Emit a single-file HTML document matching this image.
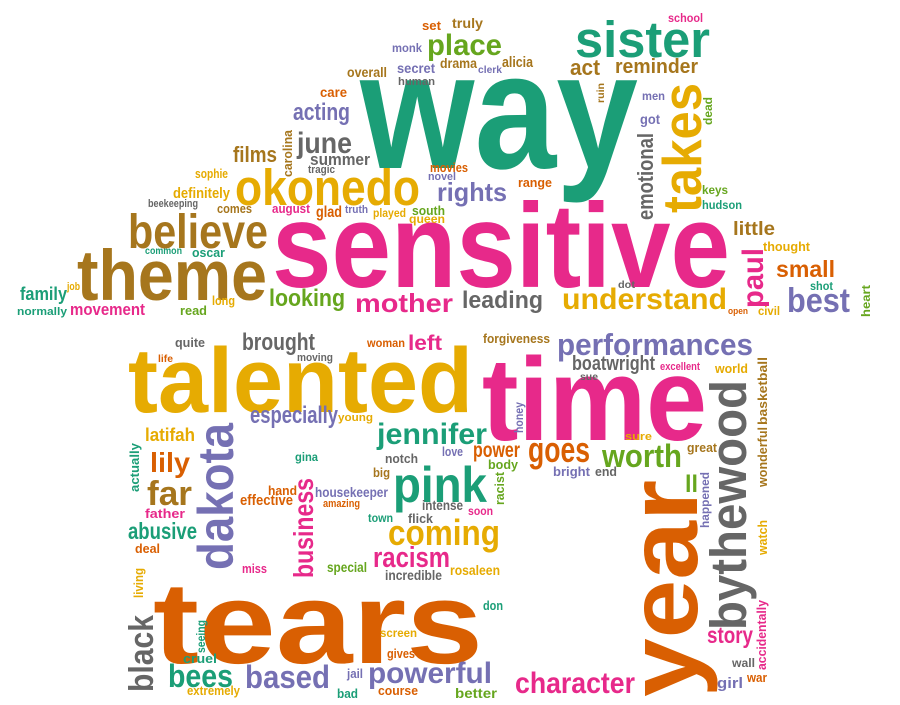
<!DOCTYPE html>
<html><head><meta charset="utf-8"><style>
html,body{margin:0;padding:0;background:#fff;}
svg{display:block;}
text{font-family:"Liberation Sans",sans-serif;font-weight:bold;}
.t{fill:#1b9e77}.o{fill:#d95f02}.p{fill:#7570b3}.k{fill:#e7298a}.g{fill:#66a61e}.y{fill:#e6ab02}.b{fill:#a6761d}.r{fill:#666666}
</style></head><body>
<svg width="900" height="705" viewBox="0 0 900 705" lengthAdjust="spacingAndGlyphs">
<g>
<text class="t" x="360" y="168" font-size="166" textLength="278" lengthAdjust="spacingAndGlyphs">way</text>
<text class="k" x="272" y="287" font-size="120" textLength="458" lengthAdjust="spacingAndGlyphs">sensitive</text>
<text class="b" x="77" y="300" font-size="71" textLength="190" lengthAdjust="spacingAndGlyphs">theme</text>
<text class="b" x="128" y="248" font-size="48" textLength="140" lengthAdjust="spacingAndGlyphs">believe</text>
<text class="y" x="235" y="205" font-size="51" textLength="185" lengthAdjust="spacingAndGlyphs">okonedo</text>
<text class="t" x="575" y="57" font-size="51" textLength="135" lengthAdjust="spacingAndGlyphs">sister</text>
<text class="y" x="128" y="412" font-size="92" textLength="345" lengthAdjust="spacingAndGlyphs">talented</text>
<text class="k" x="482" y="440" font-size="118" textLength="225" lengthAdjust="spacingAndGlyphs">time</text>
<text class="o" x="153" y="663" font-size="116" textLength="330" lengthAdjust="spacingAndGlyphs">tears</text>

<text class="o" transform="translate(697,697) rotate(-90)" font-size="98" textLength="217" lengthAdjust="spacingAndGlyphs">year</text>
<text class="r" transform="translate(746,630) rotate(-90)" font-size="51" textLength="250" lengthAdjust="spacingAndGlyphs">bythewood</text>
<text class="y" transform="translate(701,213) rotate(-90)" font-size="55" textLength="130" lengthAdjust="spacingAndGlyphs">takes</text>
<text class="r" transform="translate(653,220) rotate(-90)" font-size="22" textLength="87" lengthAdjust="spacingAndGlyphs">emotional</text>
<text class="p" transform="translate(233,570) rotate(-90)" font-size="50" textLength="147" lengthAdjust="spacingAndGlyphs">dakota</text>
<text class="k" transform="translate(313,578) rotate(-90)" font-size="28" textLength="100" lengthAdjust="spacingAndGlyphs">business</text>
<text class="r" transform="translate(153,692) rotate(-90)" font-size="34" textLength="77" lengthAdjust="spacingAndGlyphs">black</text>
<text class="k" transform="translate(763,308) rotate(-90)" font-size="30" textLength="60" lengthAdjust="spacingAndGlyphs">paul</text>
<text class="b" transform="translate(292,177) rotate(-90)" font-size="13" textLength="47" lengthAdjust="spacingAndGlyphs">carolina</text>
<text class="b" transform="translate(604,103) rotate(-90)" font-size="10" textLength="20" lengthAdjust="spacingAndGlyphs">ruin</text>
<text class="g" transform="translate(712,125) rotate(-90)" font-size="12" textLength="28" lengthAdjust="spacingAndGlyphs">dead</text>
<text class="g" transform="translate(870,317) rotate(-90)" font-size="12" textLength="32" lengthAdjust="spacingAndGlyphs">heart</text>
<text class="t" transform="translate(139,492) rotate(-90)" font-size="13" textLength="49" lengthAdjust="spacingAndGlyphs">actually</text>
<text class="y" transform="translate(143,598) rotate(-90)" font-size="13" textLength="30" lengthAdjust="spacingAndGlyphs">living</text>
<text class="t" transform="translate(205,653) rotate(-90)" font-size="12" textLength="33" lengthAdjust="spacingAndGlyphs">seeing</text>
<text class="g" transform="translate(504,505) rotate(-90)" font-size="13" textLength="33" lengthAdjust="spacingAndGlyphs">racist</text>
<text class="p" transform="translate(523,433) rotate(-90)" font-size="12" textLength="31" lengthAdjust="spacingAndGlyphs">honey</text>
<text class="p" transform="translate(709,528) rotate(-90)" font-size="12" textLength="56" lengthAdjust="spacingAndGlyphs">happened</text>
<text class="b" transform="translate(767,487) rotate(-90)" font-size="13" textLength="60" lengthAdjust="spacingAndGlyphs">wonderful</text>
<text class="b" transform="translate(767,425) rotate(-90)" font-size="13" textLength="68" lengthAdjust="spacingAndGlyphs">basketball</text>
<text class="y" transform="translate(767,555) rotate(-90)" font-size="13" textLength="35" lengthAdjust="spacingAndGlyphs">watch</text>
<text class="k" transform="translate(766,670) rotate(-90)" font-size="13" textLength="70" lengthAdjust="spacingAndGlyphs">accidentally</text>

<text class="o" x="422" y="30" font-size="13" textLength="19" lengthAdjust="spacingAndGlyphs">set</text>
<text class="p" x="392" y="52" font-size="12" textLength="30" lengthAdjust="spacingAndGlyphs">monk</text>
<text class="g" x="427" y="55" font-size="30" textLength="75" lengthAdjust="spacingAndGlyphs">place</text>
<text class="b" x="347" y="77" font-size="14" textLength="40" lengthAdjust="spacingAndGlyphs">overall</text>
<text class="p" x="397" y="73" font-size="14" textLength="38" lengthAdjust="spacingAndGlyphs">secret</text>
<text class="r" x="398" y="85" font-size="11" textLength="37" lengthAdjust="spacingAndGlyphs">human</text>
<text class="b" x="440" y="68" font-size="14" textLength="37" lengthAdjust="spacingAndGlyphs">drama</text>
<text class="b" x="452" y="28" font-size="14" textLength="31" lengthAdjust="spacingAndGlyphs">truly</text>
<text class="p" x="478" y="73" font-size="10" textLength="24" lengthAdjust="spacingAndGlyphs">clerk</text>
<text class="b" x="502" y="67" font-size="15" textLength="31" lengthAdjust="spacingAndGlyphs">alicia</text>
<text class="o" x="320" y="97" font-size="14" textLength="27" lengthAdjust="spacingAndGlyphs">care</text>
<text class="p" x="293" y="120" font-size="24" textLength="57" lengthAdjust="spacingAndGlyphs">acting</text>
<text class="r" x="297" y="153" font-size="30" textLength="55" lengthAdjust="spacingAndGlyphs">june</text>
<text class="r" x="310" y="165" font-size="17" textLength="60" lengthAdjust="spacingAndGlyphs">summer</text>
<text class="b" x="233" y="162" font-size="22" textLength="44" lengthAdjust="spacingAndGlyphs">films</text>
<text class="r" x="308" y="173" font-size="11" textLength="27" lengthAdjust="spacingAndGlyphs">tragic</text>
<text class="y" x="195" y="178" font-size="13" textLength="33" lengthAdjust="spacingAndGlyphs">sophie</text>
<text class="y" x="173" y="198" font-size="15" textLength="57" lengthAdjust="spacingAndGlyphs">definitely</text>
<text class="r" x="148" y="207" font-size="11" textLength="50" lengthAdjust="spacingAndGlyphs">beekeeping</text>
<text class="b" x="217" y="213" font-size="13" textLength="35" lengthAdjust="spacingAndGlyphs">comes</text>
<text class="k" x="272" y="213" font-size="13" textLength="38" lengthAdjust="spacingAndGlyphs">august</text>
<text class="o" x="316" y="217" font-size="16" textLength="26" lengthAdjust="spacingAndGlyphs">glad</text>
<text class="p" x="345" y="213" font-size="11" textLength="23" lengthAdjust="spacingAndGlyphs">truth</text>
<text class="y" x="373" y="217" font-size="12" textLength="33" lengthAdjust="spacingAndGlyphs">played</text>
<text class="g" x="412" y="215" font-size="13" textLength="33" lengthAdjust="spacingAndGlyphs">south</text>
<text class="y" x="409" y="223" font-size="12" textLength="36" lengthAdjust="spacingAndGlyphs">queen</text>
<text class="o" x="430" y="172" font-size="13" textLength="38" lengthAdjust="spacingAndGlyphs">movies</text>
<text class="p" x="428" y="180" font-size="11" textLength="28" lengthAdjust="spacingAndGlyphs">novel</text>
<text class="p" x="437" y="201" font-size="26" textLength="70" lengthAdjust="spacingAndGlyphs">rights</text>
<text class="o" x="518" y="187" font-size="13" textLength="34" lengthAdjust="spacingAndGlyphs">range</text>
<text class="t" x="145" y="254" font-size="10" textLength="37" lengthAdjust="spacingAndGlyphs">common</text>
<text class="t" x="192" y="257" font-size="13" textLength="33" lengthAdjust="spacingAndGlyphs">oscar</text>
<text class="y" x="67" y="290" font-size="11" textLength="13" lengthAdjust="spacingAndGlyphs">job</text>
<text class="t" x="20" y="300" font-size="18" textLength="47" lengthAdjust="spacingAndGlyphs">family</text>
<text class="t" x="17" y="315" font-size="11" textLength="50" lengthAdjust="spacingAndGlyphs">normally</text>
<text class="k" x="70" y="315" font-size="17" textLength="75" lengthAdjust="spacingAndGlyphs">movement</text>
<text class="g" x="180" y="315" font-size="13" textLength="27" lengthAdjust="spacingAndGlyphs">read</text>
<text class="y" x="212" y="305" font-size="13" textLength="23" lengthAdjust="spacingAndGlyphs">long</text>
<text class="g" x="269" y="306" font-size="24" textLength="76" lengthAdjust="spacingAndGlyphs">looking</text>
<text class="k" x="355" y="312" font-size="26" textLength="98" lengthAdjust="spacingAndGlyphs">mother</text>
<text class="r" x="462" y="308" font-size="24" textLength="81" lengthAdjust="spacingAndGlyphs">leading</text>
<text class="k" x="668" y="22" font-size="12" textLength="35" lengthAdjust="spacingAndGlyphs">school</text>
<text class="b" x="570" y="75" font-size="22" textLength="30" lengthAdjust="spacingAndGlyphs">act</text>
<text class="b" x="615" y="73" font-size="20" textLength="83" lengthAdjust="spacingAndGlyphs">reminder</text>
<text class="p" x="642" y="100" font-size="12" textLength="23" lengthAdjust="spacingAndGlyphs">men</text>
<text class="p" x="640" y="124" font-size="14" textLength="20" lengthAdjust="spacingAndGlyphs">got</text>
<text class="g" x="702" y="194" font-size="12" textLength="26" lengthAdjust="spacingAndGlyphs">keys</text>
<text class="t" x="702" y="209" font-size="12" textLength="40" lengthAdjust="spacingAndGlyphs">hudson</text>
<text class="b" x="733" y="235" font-size="19" textLength="42" lengthAdjust="spacingAndGlyphs">little</text>
<text class="y" x="763" y="251" font-size="13" textLength="47" lengthAdjust="spacingAndGlyphs">thought</text>
<text class="o" x="776" y="277" font-size="23" textLength="59" lengthAdjust="spacingAndGlyphs">small</text>
<text class="t" x="810" y="290" font-size="12" textLength="23" lengthAdjust="spacingAndGlyphs">shot</text>
<text class="p" x="787" y="312" font-size="34" textLength="63" lengthAdjust="spacingAndGlyphs">best</text>
<text class="y" x="758" y="315" font-size="12" textLength="22" lengthAdjust="spacingAndGlyphs">civil</text>
<text class="o" x="728" y="314" font-size="9" textLength="20" lengthAdjust="spacingAndGlyphs">open</text>
<text class="r" x="618" y="288" font-size="10" textLength="17" lengthAdjust="spacingAndGlyphs">dot</text>
<text class="y" x="562" y="309" font-size="30" textLength="165" lengthAdjust="spacingAndGlyphs">understand</text>

<text class="r" x="175" y="347" font-size="13" textLength="30" lengthAdjust="spacingAndGlyphs">quite</text>
<text class="o" x="158" y="362" font-size="10" textLength="15" lengthAdjust="spacingAndGlyphs">life</text>
<text class="r" x="242" y="350" font-size="24" textLength="73" lengthAdjust="spacingAndGlyphs">brought</text>
<text class="r" x="297" y="361" font-size="11" textLength="36" lengthAdjust="spacingAndGlyphs">moving</text>
<text class="o" x="367" y="347" font-size="12" textLength="38" lengthAdjust="spacingAndGlyphs">woman</text>
<text class="k" x="408" y="350" font-size="21" textLength="34" lengthAdjust="spacingAndGlyphs">left</text>
<text class="b" x="483" y="343" font-size="13" textLength="67" lengthAdjust="spacingAndGlyphs">forgiveness</text>
<text class="p" x="250" y="423" font-size="24" textLength="88" lengthAdjust="spacingAndGlyphs">especially</text>
<text class="y" x="338" y="421" font-size="11" textLength="35" lengthAdjust="spacingAndGlyphs">young</text>
<text class="t" x="377" y="444" font-size="30" textLength="110" lengthAdjust="spacingAndGlyphs">jennifer</text>
<text class="y" x="145" y="441" font-size="18" textLength="50" lengthAdjust="spacingAndGlyphs">latifah</text>
<text class="o" x="150" y="472" font-size="28" textLength="40" lengthAdjust="spacingAndGlyphs">lily</text>
<text class="b" x="147" y="505" font-size="34" textLength="45" lengthAdjust="spacingAndGlyphs">far</text>
<text class="k" x="145" y="518" font-size="13" textLength="40" lengthAdjust="spacingAndGlyphs">father</text>
<text class="t" x="128" y="539" font-size="23" textLength="69" lengthAdjust="spacingAndGlyphs">abusive</text>
<text class="o" x="135" y="553" font-size="13" textLength="25" lengthAdjust="spacingAndGlyphs">deal</text>
<text class="t" x="295" y="461" font-size="12" textLength="23" lengthAdjust="spacingAndGlyphs">gina</text>
<text class="r" x="385" y="463" font-size="13" textLength="33" lengthAdjust="spacingAndGlyphs">notch</text>
<text class="p" x="442" y="456" font-size="13" textLength="21" lengthAdjust="spacingAndGlyphs">love</text>
<text class="o" x="473" y="457" font-size="21" textLength="47" lengthAdjust="spacingAndGlyphs">power</text>
<text class="b" x="373" y="477" font-size="13" textLength="17" lengthAdjust="spacingAndGlyphs">big</text>
<text class="t" x="393" y="502" font-size="50" textLength="94" lengthAdjust="spacingAndGlyphs">pink</text>
<text class="o" x="268" y="495" font-size="13" textLength="29" lengthAdjust="spacingAndGlyphs">hand</text>
<text class="o" x="240" y="505" font-size="15" textLength="53" lengthAdjust="spacingAndGlyphs">effective</text>
<text class="p" x="315" y="497" font-size="14" textLength="73" lengthAdjust="spacingAndGlyphs">housekeeper</text>
<text class="o" x="323" y="507" font-size="11" textLength="37" lengthAdjust="spacingAndGlyphs">amazing</text>
<text class="r" x="422" y="510" font-size="14" textLength="41" lengthAdjust="spacingAndGlyphs">intense</text>
<text class="k" x="468" y="515" font-size="12" textLength="25" lengthAdjust="spacingAndGlyphs">soon</text>
<text class="t" x="368" y="522" font-size="12" textLength="25" lengthAdjust="spacingAndGlyphs">town</text>
<text class="r" x="408" y="523" font-size="13" textLength="25" lengthAdjust="spacingAndGlyphs">flick</text>
<text class="g" x="488" y="469" font-size="13" textLength="30" lengthAdjust="spacingAndGlyphs">body</text>
<text class="y" x="388" y="545" font-size="36" textLength="112" lengthAdjust="spacingAndGlyphs">coming</text>
<text class="k" x="373" y="567" font-size="29" textLength="77" lengthAdjust="spacingAndGlyphs">racism</text>
<text class="k" x="242" y="573" font-size="13" textLength="25" lengthAdjust="spacingAndGlyphs">miss</text>
<text class="g" x="327" y="572" font-size="14" textLength="40" lengthAdjust="spacingAndGlyphs">special</text>
<text class="r" x="385" y="580" font-size="14" textLength="57" lengthAdjust="spacingAndGlyphs">incredible</text>
<text class="y" x="450" y="575" font-size="14" textLength="50" lengthAdjust="spacingAndGlyphs">rosaleen</text>
<text class="t" x="483" y="610" font-size="13" textLength="20" lengthAdjust="spacingAndGlyphs">don</text>
<text class="y" x="380" y="637" font-size="12" textLength="37" lengthAdjust="spacingAndGlyphs">screen</text>
<text class="t" x="183" y="663" font-size="13" textLength="34" lengthAdjust="spacingAndGlyphs">cruel</text>
<text class="o" x="387" y="658" font-size="13" textLength="28" lengthAdjust="spacingAndGlyphs">gives</text>
<text class="t" x="168" y="687" font-size="32" textLength="65" lengthAdjust="spacingAndGlyphs">bees</text>
<text class="p" x="245" y="688" font-size="32" textLength="85" lengthAdjust="spacingAndGlyphs">based</text>
<text class="p" x="347" y="678" font-size="13" textLength="16" lengthAdjust="spacingAndGlyphs">jail</text>
<text class="p" x="368" y="683" font-size="30" textLength="124" lengthAdjust="spacingAndGlyphs">powerful</text>
<text class="y" x="187" y="695" font-size="13" textLength="53" lengthAdjust="spacingAndGlyphs">extremely</text>
<text class="t" x="337" y="698" font-size="13" textLength="21" lengthAdjust="spacingAndGlyphs">bad</text>
<text class="o" x="378" y="695" font-size="13" textLength="40" lengthAdjust="spacingAndGlyphs">course</text>
<text class="g" x="455" y="698" font-size="14" textLength="42" lengthAdjust="spacingAndGlyphs">better</text>
<text class="p" x="557" y="355" font-size="31" textLength="196" lengthAdjust="spacingAndGlyphs">performances</text>
<text class="r" x="572" y="370" font-size="20" textLength="83" lengthAdjust="spacingAndGlyphs">boatwright</text>
<text class="r" x="580" y="380" font-size="10" textLength="18" lengthAdjust="spacingAndGlyphs">sue</text>
<text class="k" x="660" y="370" font-size="11" textLength="40" lengthAdjust="spacingAndGlyphs">excellent</text>
<text class="y" x="715" y="373" font-size="13" textLength="33" lengthAdjust="spacingAndGlyphs">world</text>
<text class="y" x="625" y="440" font-size="11" textLength="27" lengthAdjust="spacingAndGlyphs">sure</text>
<text class="o" x="528" y="462" font-size="36" textLength="62" lengthAdjust="spacingAndGlyphs">goes</text>
<text class="g" x="602" y="467" font-size="32" textLength="80" lengthAdjust="spacingAndGlyphs">worth</text>
<text class="b" x="687" y="452" font-size="13" textLength="30" lengthAdjust="spacingAndGlyphs">great</text>
<text class="p" x="553" y="476" font-size="13" textLength="37" lengthAdjust="spacingAndGlyphs">bright</text>
<text class="r" x="595" y="476" font-size="13" textLength="22" lengthAdjust="spacingAndGlyphs">end</text>
<text class="g" x="685" y="492" font-size="24" textLength="13" lengthAdjust="spacingAndGlyphs">ll</text>
<text class="k" x="707" y="643" font-size="23" textLength="46" lengthAdjust="spacingAndGlyphs">story</text>
<text class="r" x="732" y="667" font-size="12" textLength="23" lengthAdjust="spacingAndGlyphs">wall</text>
<text class="p" x="717" y="688" font-size="15" textLength="26" lengthAdjust="spacingAndGlyphs">girl</text>
<text class="o" x="747" y="682" font-size="13" textLength="20" lengthAdjust="spacingAndGlyphs">war</text>
<text class="k" x="515" y="693" font-size="30" textLength="120" lengthAdjust="spacingAndGlyphs">character</text>
</g>
</svg>
</body></html>
